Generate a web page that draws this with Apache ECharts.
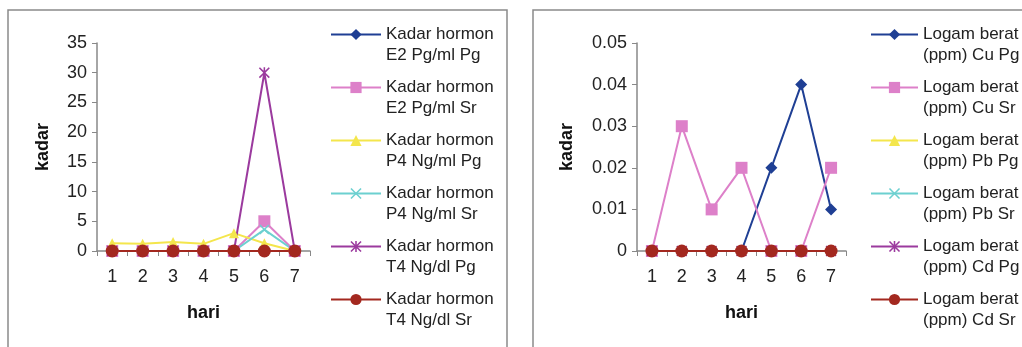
<!DOCTYPE html>
<html lang="id">

<head>
    <meta charset="UTF-8">
    <title>Kadar hormon dan logam berat</title>
    <script src="https://cdn.jsdelivr.net/npm/echarts@6/dist/echarts.min.js"></script>
    <style>
        body { margin: 0; background: #fff; }
        #chart { width: 1022px; height: 347px; }
    </style>
</head>

<body>
    <div id="chart"></div>
    <script>
        // sumbu x
        var hari = ['1', '2', '3', '4', '5', '6', '7']

        // grafik kiri: kadar hormon
        var hormonNames = [
            'Kadar hormon\nE2 Pg/ml Pg', 'Kadar hormon\nE2 Pg/ml Sr',
            'Kadar hormon\nP4 Ng/ml Pg', 'Kadar hormon\nP4 Ng/ml Sr',
            'Kadar hormon\nT4 Ng/dl Pg', 'Kadar hormon\nT4 Ng/dl Sr'
        ]
        var e2Pg = [0, 0, 0, 0, 0, 0, 0]
        var e2Sr = [0, 0, 0, 0, 0, 5, 0]
        var p4Pg = [1.3, 1.2, 1.5, 1.2, 3, 1.3, 0]
        var p4Sr = [0, 0, 0, 0, 0, 3.6, 0]
        var t4Pg = [0, 0, 0, 0, 0, 30, 0]
        var t4Sr = [0, 0, 0, 0, 0, 0, 0]

        // grafik kanan: logam berat
        var logamNames = [
            'Logam berat\n(ppm) Cu Pg', 'Logam berat\n(ppm) Cu Sr',
            'Logam berat\n(ppm) Pb Pg', 'Logam berat\n(ppm) Pb Sr',
            'Logam berat\n(ppm) Cd Pg', 'Logam berat\n(ppm) Cd Sr'
        ]
        var cuPg = [0, 0, 0, 0, 0.02, 0.04, 0.01]
        var cuSr = [0, 0.03, 0.01, 0.02, 0, 0, 0.02]
        var pbPg = [0, 0, 0, 0, 0, 0, 0]
        var pbSr = [0, 0, 0, 0, 0, 0, 0]
        var cdPg = [0, 0, 0, 0, 0, 0, 0]
        var cdSr = [0, 0, 0, 0, 0, 0, 0]

        var xMark = 'path://M0,1L1,0L5,4L9,0L10,1L6,5L10,9L9,10L5,6L1,10L0,9L4,5Z'
        var starMark = 'path://M0,1L1,0L5,4L9,0L10,1L6,5L10,9L9,10L5,6L1,10L0,9L4,5Z M4.3,0L5.7,0L5.7,10L4.3,10Z'
        // gaya tiap seri (warna & simbol ala Excel)
        var styles = [
            { color: '#1f3f94', symbol: 'diamond', size: 12 },
            { color: '#dd80c9', symbol: 'rect', size: 12 },
            { color: '#f4e64c', symbol: 'triangle', size: 10 },
            { color: '#6cd0d0', symbol: xMark, size: 10 },
            { color: '#9b3a9e', symbol: starMark, size: 11 },
            { color: '#a3281f', symbol: 'circle', size: 13 }
        ]

        function makeSeries(names, datas, idx) {
            return names.map(function(n, i) {
                return {
                    type: 'line',
                    name: n,
                    xAxisIndex: idx,
                    yAxisIndex: idx,
                    data: datas[i],
                    symbol: styles[i].symbol,
                    symbolSize: styles[i].size,
                    showAllSymbol: true,
                    animation: false,
                    color: styles[i].color,
                    lineStyle: { width: 2, color: styles[i].color },
                    itemStyle: { color: styles[i].color, borderWidth: 0 }
                }
            })
        }

        var labelFont = { fontFamily: 'Liberation Sans', fontSize: 18, color: '#222' }
        var nameFont = { fontFamily: 'Liberation Sans', fontSize: 18, fontWeight: 'bold', color: '#111' }
        var axisLine = { lineStyle: { color: '#888', width: 1.5 } }

        function xAxisOf(idx) {
            return {
                type: 'category',
                gridIndex: idx,
                data: hari,
                name: 'hari',
                nameLocation: 'middle',
                nameGap: 53,
                nameTextStyle: nameFont,
                axisLine: axisLine,
                axisTick: { show: true, length: 5, lineStyle: { color: '#888' } },
                axisLabel: Object.assign({ margin: 17 }, labelFont),
                splitLine: { show: false }
            }
        }

        function yAxisOf(idx, max, step, gap) {
            return {
                type: 'value',
                gridIndex: idx,
                min: 0,
                max: max,
                interval: step,
                name: 'kadar',
                nameLocation: 'middle',
                nameGap: gap,
                nameTextStyle: nameFont,
                axisLine: Object.assign({ show: true }, axisLine),
                axisTick: { show: true, length: 5, lineStyle: { color: '#888' } },
                axisLabel: Object.assign({ margin: 10 }, labelFont),
                splitLine: { show: false }
            }
        }

        function legendOf(names, left, w) {
            return {
                orient: 'vertical',
                left: left,
                top: 3,
                padding: 0,
                itemWidth: w,
                itemHeight: 14,
                itemGap: -10,
                data: names,
                // baris kosong di atas supaya ikon sejajar dengan baris pertama
                formatter: function(n) { return '\n' + n },
                textStyle: {
                    fontFamily: 'Liberation Sans',
                    fontSize: 17,
                    color: '#222',
                    lineHeight: 21
                }
            }
        }

        var myChart = echarts.init(document.getElementById('chart'), null, { renderer: 'canvas' })
        var option = {
            backgroundColor: '#fff',
            animation: false,
            graphic: [
                { type: 'rect', shape: { x: 8, y: 10, width: 499, height: 345 }, style: { fill: 'none', stroke: '#8a8a8a', lineWidth: 1.5 }, z: -1 },
                { type: 'rect', shape: { x: 533, y: 10, width: 500, height: 345 }, style: { fill: 'none', stroke: '#8a8a8a', lineWidth: 1.5 }, z: -1 }
            ],
            grid: [
                { left: 97, top: 43, width: 213, height: 208 },
                { left: 637, top: 43, width: 209, height: 208 }
            ],
            legend: [legendOf(hormonNames, 330, 50), legendOf(logamNames, 870, 47)],
            xAxis: [xAxisOf(0), xAxisOf(1)],
            yAxis: [yAxisOf(0, 35, 5, 45), yAxisOf(1, 0.05, 0.01, 61)],
            series: makeSeries(hormonNames, [e2Pg, e2Sr, p4Pg, p4Sr, t4Pg, t4Sr], 0)
                .concat(makeSeries(logamNames, [cuPg, cuSr, pbPg, pbSr, cdPg, cdSr], 1))
        }
        myChart.setOption(option)
    </script>
</body>

</html>
